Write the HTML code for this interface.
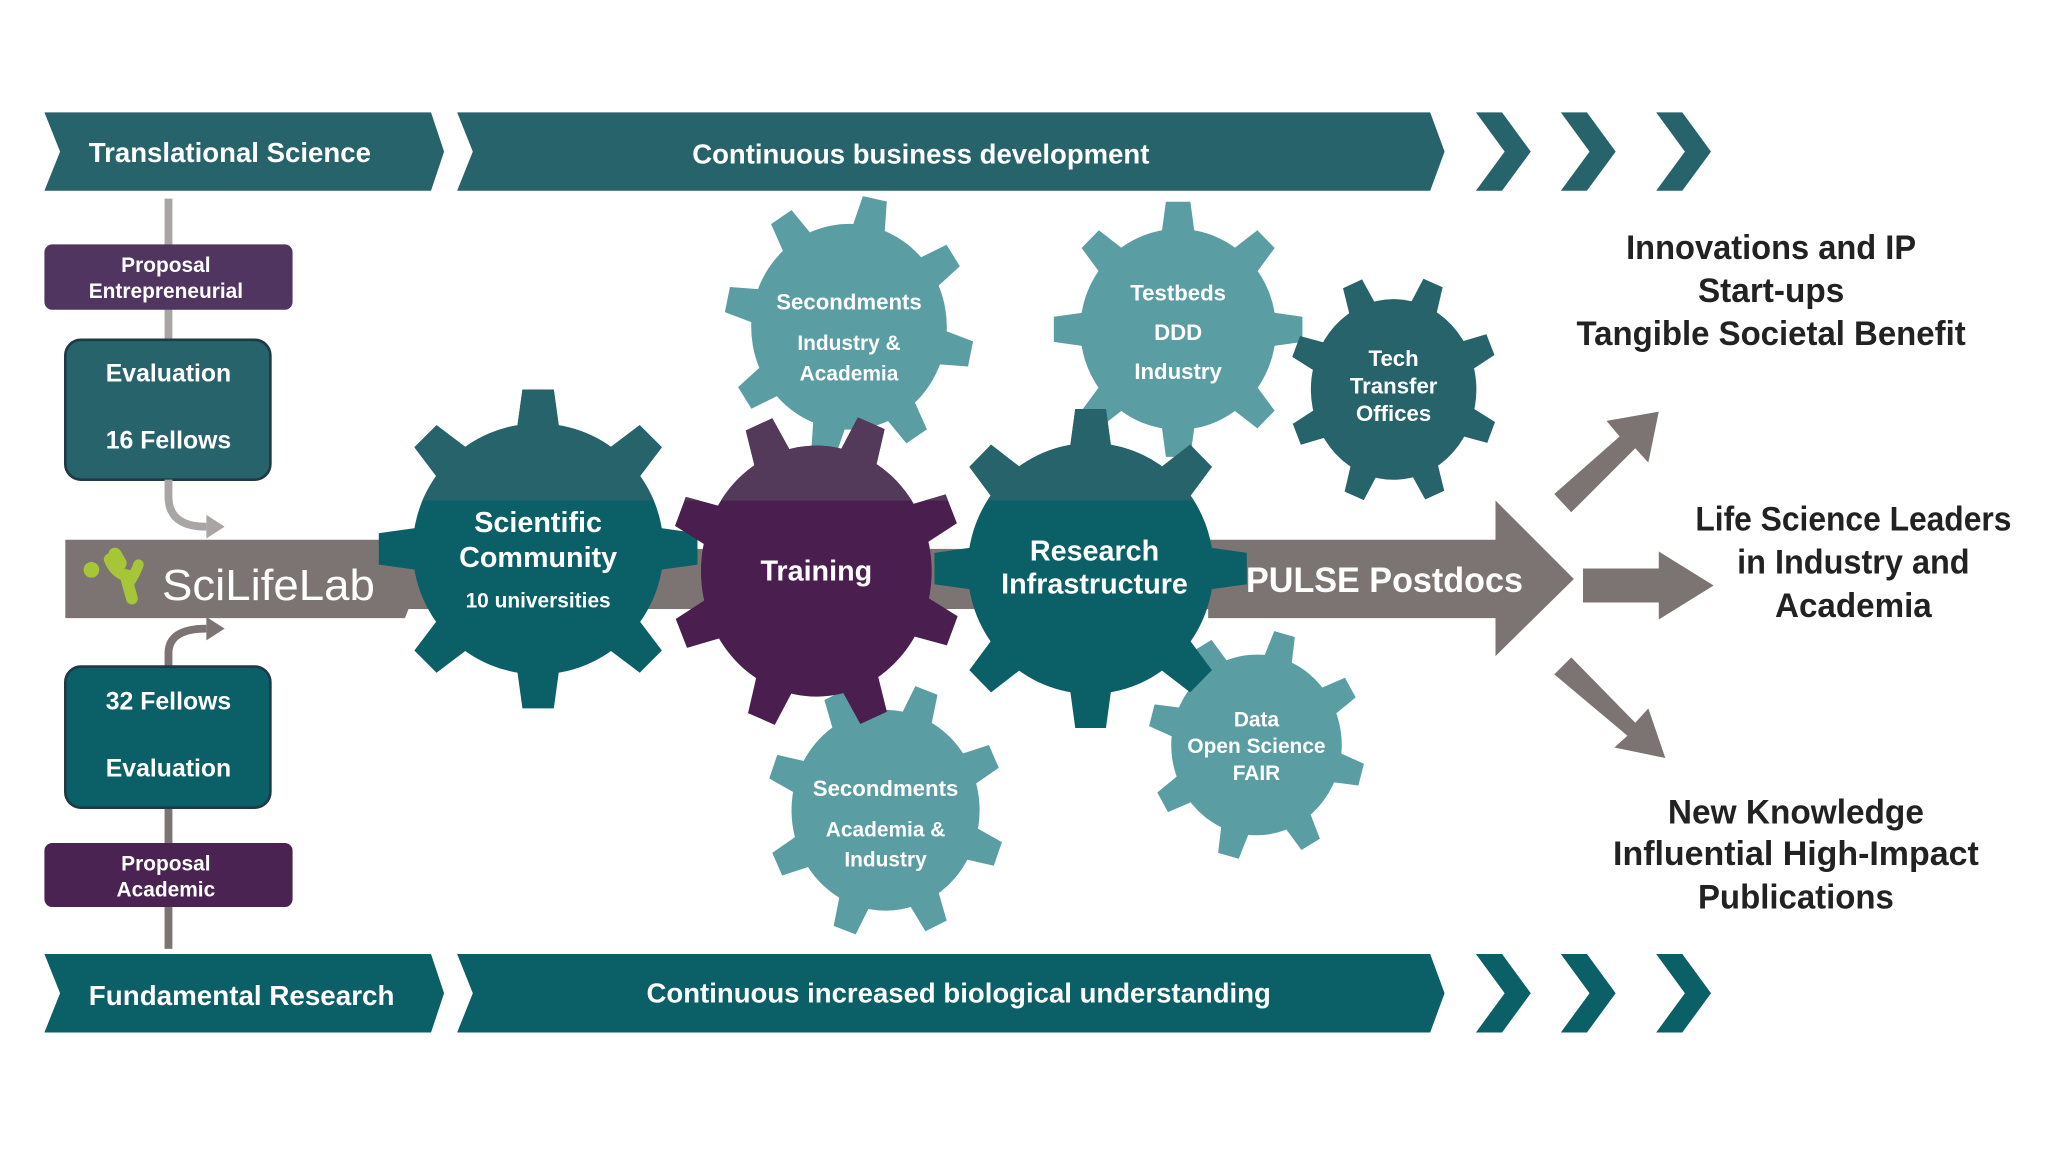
<!DOCTYPE html>
<html><head><meta charset="utf-8"><style>
html,body{margin:0;padding:0;background:#fff;}
svg{display:block;}
text{font-family:"Liberation Sans",sans-serif;}
</style></head><body>
<svg width="2048" height="1154" viewBox="0 0 1568 883" preserveAspectRatio="none" xmlns="http://www.w3.org/2000/svg">
<defs>
<g id="teeth8">
<polygon points="-17,-86 17,-86 12,-122 -12,-122"/>
<polygon points="-17,-86 17,-86 12,-122 -12,-122" transform="rotate(45)"/>
<polygon points="-17,-86 17,-86 12,-122 -12,-122" transform="rotate(90)"/>
<polygon points="-17,-86 17,-86 12,-122 -12,-122" transform="rotate(135)"/>
<polygon points="-17,-86 17,-86 12,-122 -12,-122" transform="rotate(180)"/>
<polygon points="-17,-86 17,-86 12,-122 -12,-122" transform="rotate(225)"/>
<polygon points="-17,-86 17,-86 12,-122 -12,-122" transform="rotate(270)"/>
<polygon points="-17,-86 17,-86 12,-122 -12,-122" transform="rotate(315)"/>
<circle r="96"/>
</g>
<clipPath id="topclip"><rect x="0" y="0" width="1568" height="383"/></clipPath>
</defs>
<rect width="1568" height="883" fill="#fff"/>

<!-- Top banners -->
<g fill="#27636b">
<polygon points="34,86 330,86 340,116 330,146 34,146 46,116"/>
<polygon points="350,86 1095,86 1106,116 1095,146 350,146 362,116"/>
<polygon points="1130,86 1150,86 1172,116 1150,146 1130,146 1152,116"/>
<polygon points="1195,86 1215,86 1237,116 1215,146 1195,146 1217,116"/>
<polygon points="1268,86 1288,86 1310,116 1288,146 1268,146 1290,116"/>
</g>
<g fill="#0b5f66">
<polygon points="34,730 330,730 340,760 330,790 34,790 46,760"/>
<polygon points="350,730 1095,730 1106,760 1095,790 350,790 362,760"/>
<polygon points="1130,730 1150,730 1172,760 1150,790 1130,790 1152,760"/>
<polygon points="1195,730 1215,730 1237,760 1215,790 1195,790 1217,760"/>
<polygon points="1268,730 1288,730 1310,760 1288,790 1268,790 1290,760"/>
</g>
<g fill="#fff" font-size="21" font-weight="bold">
<text x="68" y="124" textLength="216" lengthAdjust="spacingAndGlyphs">Translational Science</text>
<text x="530" y="125" textLength="350" lengthAdjust="spacingAndGlyphs">Continuous business development</text>
<text x="68" y="769" textLength="234" lengthAdjust="spacingAndGlyphs">Fundamental Research</text>
<text x="495" y="767" textLength="478" lengthAdjust="spacingAndGlyphs">Continuous increased biological understanding</text>
</g>

<!-- left column -->
<line x1="129" y1="152" x2="129" y2="262" stroke="#aaa5a5" stroke-width="6"/>
<line x1="129" y1="616" x2="129" y2="726" stroke="#7b7473" stroke-width="6"/>
<rect x="34" y="187" width="190" height="50" rx="6" fill="#4f3560"/>
<g font-weight="bold" fill="#fff" text-anchor="middle">
<text x="127" y="208" font-size="16">Proposal</text>
<text x="127" y="228" font-size="16">Entrepreneurial</text>
</g>
<rect x="50" y="260" width="157" height="107" rx="12" fill="#27636b" stroke="#1d3a45" stroke-width="2"/>
<g font-weight="bold" fill="#fff" text-anchor="middle" font-size="19">
<text x="129" y="292">Evaluation</text>
<text x="129" y="343">16 Fellows</text>
</g>
<path d="M129,367 L129,380 Q129,403 158,403" fill="none" stroke="#aaa5a5" stroke-width="6"/>
<polygon points="158,394 172,403 158,412" fill="#aaa5a5"/>
<path d="M129,512 L129,500 Q129,481 158,481" fill="none" stroke="#7b7473" stroke-width="6"/>
<polygon points="158,472 172,481 158,490" fill="#7b7473"/>
<rect x="50" y="510" width="157" height="108" rx="12" fill="#0b5f66" stroke="#1d3a45" stroke-width="2"/>
<g font-weight="bold" fill="#fff" text-anchor="middle" font-size="19">
<text x="129" y="543">32 Fellows</text>
<text x="129" y="594">Evaluation</text>
</g>
<rect x="34" y="645" width="190" height="49" rx="6" fill="#4a2352"/>
<g font-weight="bold" fill="#fff" text-anchor="middle" font-size="16">
<text x="127" y="666">Proposal</text>
<text x="127" y="686">Academic</text>
</g>

<!-- gray bar + PULSE arrow -->
<polygon points="50,413 310,413 322,443 310,473 50,473" fill="#7b7473"/>
<rect x="300" y="420" width="650" height="46" fill="#7b7473"/>
<polygon points="925,413 1145,413 1145,383 1205,443 1145,502 1145,473 925,473" fill="#7b7473"/>
<!-- SciLifeLab logo -->
<circle cx="70" cy="436" r="6" fill="#a6c638"/>
<path d="M84,428 Q88,438 96,440 L101,458" stroke="#a6c638" stroke-width="9" fill="none" stroke-linecap="round"/>
<path d="M88,424 L92,431" stroke="#a6c638" stroke-width="10" fill="none" stroke-linecap="round"/>
<path d="M99,446 Q104,438 106,432" stroke="#a6c638" stroke-width="8" fill="none" stroke-linecap="round"/>
<text x="124" y="459" fill="#fff" font-size="33" textLength="163" lengthAdjust="spacingAndGlyphs">SciLifeLab</text>

<!-- light gears -->
<g fill="#5a9ea3">
<use href="#teeth8" transform="translate(650,250) scale(0.78,0.82) rotate(12)"/>
<use href="#teeth8" transform="translate(902,252) scale(0.78,0.8) rotate(0)"/>
<use href="#teeth8" transform="translate(962,570) scale(0.68,0.72) rotate(15)"/>
<use href="#teeth8" transform="translate(678,620) scale(0.75,0.8) rotate(20)"/>
</g>
<g fill="#27636b"><use href="#teeth8" transform="translate(1067,298) scale(0.66,0.72) rotate(22)"/></g>

<!-- main gears -->
<g fill="#0b5f66"><use href="#teeth8" transform="translate(412,420)"/></g>
<g fill="#4a1f4f"><use href="#teeth8" transform="translate(625,437) scale(0.92,1) rotate(22)"/></g>
<g fill="#0b5f66"><use href="#teeth8" transform="translate(835,435) scale(0.98,1)"/></g>
<g clip-path="url(#topclip)">
<g fill="#27636b"><use href="#teeth8" transform="translate(412,420)"/></g>
<g fill="#533a5a"><use href="#teeth8" transform="translate(625,437) scale(0.92,1) rotate(22)"/></g>
<g fill="#27636b"><use href="#teeth8" transform="translate(835,435) scale(0.98,1)"/></g>
</g>

<!-- gear labels -->
<g fill="#fff" text-anchor="middle" font-weight="bold">
<text x="412" y="407" font-size="22">Scientific</text>
<text x="412" y="434" font-size="22">Community</text>
<text x="412" y="465" font-size="16">10 universities</text>
<text x="625" y="444" font-size="22">Training</text>
<text x="838" y="429" font-size="22">Research</text>
<text x="838" y="454" font-size="22">Infrastructure</text>
<text x="1060" y="453" font-size="27" textLength="212" lengthAdjust="spacingAndGlyphs">PULSE Postdocs</text>
<text x="650" y="237" font-size="17">Secondments</text>
<text x="650" y="268" font-size="16">Industry &amp;</text>
<text x="650" y="291" font-size="16">Academia</text>
<text x="902" y="230" font-size="17">Testbeds</text>
<text x="902" y="260" font-size="17">DDD</text>
<text x="902" y="290" font-size="17">Industry</text>
<text x="1067" y="280" font-size="17">Tech</text>
<text x="1067" y="301" font-size="17">Transfer</text>
<text x="1067" y="322" font-size="17">Offices</text>
<text x="962" y="556" font-size="16">Data</text>
<text x="962" y="576" font-size="16">Open Science</text>
<text x="962" y="597" font-size="16">FAIR</text>
<text x="678" y="609" font-size="17">Secondments</text>
<text x="678" y="640" font-size="16">Academia &amp;</text>
<text x="678" y="663" font-size="16">Industry</text>
</g>

<!-- output arrows -->
<g fill="#7b7473">
<polygon points="1190,378 1240,334 1230,322 1270,315 1262,354 1252,343 1203,392" />
<polygon points="1212,435 1270,435 1270,422 1312,448 1270,474 1270,461 1212,461"/>
<polygon points="1203,503 1252,553 1262,542 1275,580 1236,572 1246,563 1190,516"/>
</g>

<!-- right texts -->
<g fill="#222" text-anchor="middle" font-size="26" font-weight="bold">
<text x="1356" y="198" textLength="222" lengthAdjust="spacingAndGlyphs">Innovations and IP</text>
<text x="1356" y="231" textLength="112" lengthAdjust="spacingAndGlyphs">Start-ups</text>
<text x="1356" y="264" textLength="298" lengthAdjust="spacingAndGlyphs">Tangible Societal Benefit</text>
<text x="1419" y="406" textLength="242" lengthAdjust="spacingAndGlyphs">Life Science Leaders</text>
<text x="1419" y="439" textLength="178" lengthAdjust="spacingAndGlyphs">in Industry and</text>
<text x="1419" y="472" textLength="120" lengthAdjust="spacingAndGlyphs">Academia</text>
<text x="1375" y="630" textLength="196" lengthAdjust="spacingAndGlyphs">New Knowledge</text>
<text x="1375" y="662" textLength="280" lengthAdjust="spacingAndGlyphs">Influential High-Impact</text>
<text x="1375" y="695" textLength="150" lengthAdjust="spacingAndGlyphs">Publications</text>
</g>
</svg>
</body></html>
